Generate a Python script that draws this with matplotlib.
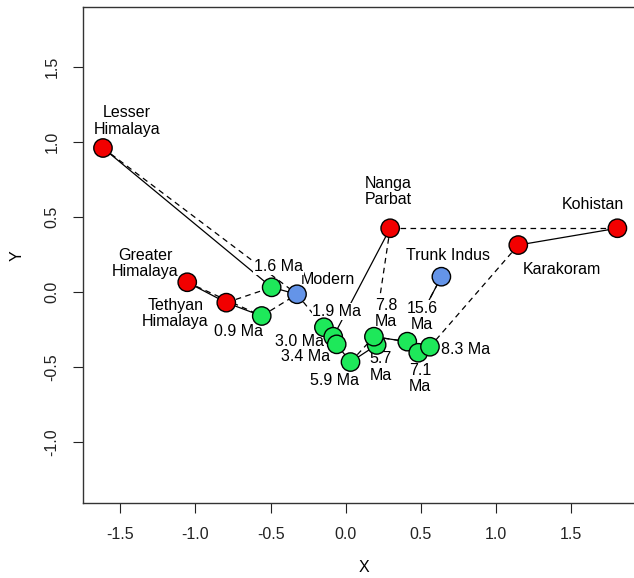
import matplotlib
matplotlib.use("Agg")
import matplotlib.pyplot as plt

plt.rcParams['font.family'] = ['Liberation Sans', 'DejaVu Sans']

# ---- data ----
names = ["Lesser\nHimalaya", "Greater\nHimalaya", "Tethyan\nHimalaya", "Nanga\nParbat",
         "Karakoram", "Kohistan", "Modern", "Trunk Indus",
         "0.9 Ma", "1.6 Ma", "1.9 Ma", "3.0 Ma", "3.4 Ma", "5.9 Ma", "5.7\nMa",
         "7.8\nMa", "15.6\nMa", "7.1\nMa", "8.3 Ma"]
x_vals = [-1.616, -1.055, -0.795, 0.296, 1.149, 1.809, -0.324, 0.637,
          -0.559, -0.493, -0.145, -0.083, -0.060, 0.032, 0.206,
          0.188, 0.410, 0.483, 0.561]
y_vals = [0.962, 0.067, -0.069, 0.427, 0.315, 0.427, -0.013, 0.104,
          -0.158, 0.033, -0.233, -0.296, -0.347, -0.465, -0.351,
          -0.296, -0.329, -0.403, -0.363]
groups = ["source"] * 6 + ["river"] * 2 + ["sediment"] * 11

# nearest neighbour (solid) and second nearest neighbour (dashed) links
solid_links = [(0, 9), (1, 2), (2, 8), (9, 6), (10, 11), (11, 12), (12, 13),
               (13, 14), (14, 15), (15, 16), (16, 17), (17, 18), (7, 16),
               (3, 11), (5, 4)]
dashed_links = [(0, 6), (1, 8), (2, 9), (8, 6), (6, 10), (15, 16), (16, 7),
                (3, 15), (3, 5), (4, 18), (18, 16), (13, 15)]

# ---- styles ----
colors = {"source": "#f20000", "river": "#6494e8", "sediment": "#1ee85a"}
# label offsets in pixels (dx, dy)
offsets_px = [(24, 27), (-42, 19), (-51, -11), (-2, 37), (44, -24), (-25, 24),
              (31, 15), (7, 21),
              (-23, -15), (7, 21), (13, 16), (-34, -5), (-31, -12), (-16, -18),
              (4, -22), (12, 23), (15, 25), (2, -26), (36, -3)]

fig = plt.figure(figsize=(6.34, 5.78), dpi=100)
W, H = 634, 578
left_px, right_px, top_px, bot_px = 83.3, 645.0, 7.3, 503.0
ax = fig.add_axes([left_px / W, (H - bot_px) / H,
                   (right_px - left_px) / W, (bot_px - top_px) / H])

xpix = 150.2
ypix = 150.0
x0 = -1.747
ax.set_xlim(x0, x0 + (right_px - left_px) / xpix)
ax.set_ylim(-(bot_px - 292.3) / ypix, (292.3 - top_px) / ypix)

for i, j in solid_links:
    ax.plot([x_vals[i], x_vals[j]], [y_vals[i], y_vals[j]], color="black",
            lw=0.9, zorder=1, solid_capstyle="butt")
for i, j in dashed_links:
    ax.plot([x_vals[i], x_vals[j]], [y_vals[i], y_vals[j]], color="black",
            lw=0.9, linestyle=(0, (4.5, 3.5)), zorder=1)

for name, xv, yv, (dx, dy) in zip(names, x_vals, y_vals, offsets_px):
    ax.annotate(name, (xv, yv), xytext=(dx * 0.72, dy * 0.72),
                textcoords="offset points", ha="center", va="center",
                fontsize=11.5, linespacing=1.1, zorder=2,
                bbox=dict(facecolor="white", edgecolor="none",
                          boxstyle="square,pad=0.05"))

ax.scatter(x_vals, y_vals, s=175, c=[colors[g] for g in groups],
           edgecolors="black", linewidths=1.0, zorder=3)

ax.set_xticks([-1.5, -1.0, -0.5, 0.0, 0.5, 1.0, 1.5])
ax.set_xticklabels(["-1.5", "-1.0", "-0.5", "0.0", "0.5", "1.0", "1.5"])
ax.set_yticks([-1.0, -0.5, 0.0, 0.5, 1.0, 1.5])
ax.set_yticklabels(["-1.0", "-0.5", "0.0", "0.5", "1.0", "1.5"],
                   rotation=90, va="center")
ax.tick_params(direction="out", length=7.2, width=0.8, pad=10, labelsize=11.5,
               colors="#222222")
ax.set_xlabel("X", fontsize=11.5, labelpad=13)
ax.set_ylabel("Y", fontsize=11.5, labelpad=14)
for sp in ax.spines.values():
    sp.set_linewidth(1.0)
    sp.set_color("#333333")

fig.savefig("out.png", dpi=100)
